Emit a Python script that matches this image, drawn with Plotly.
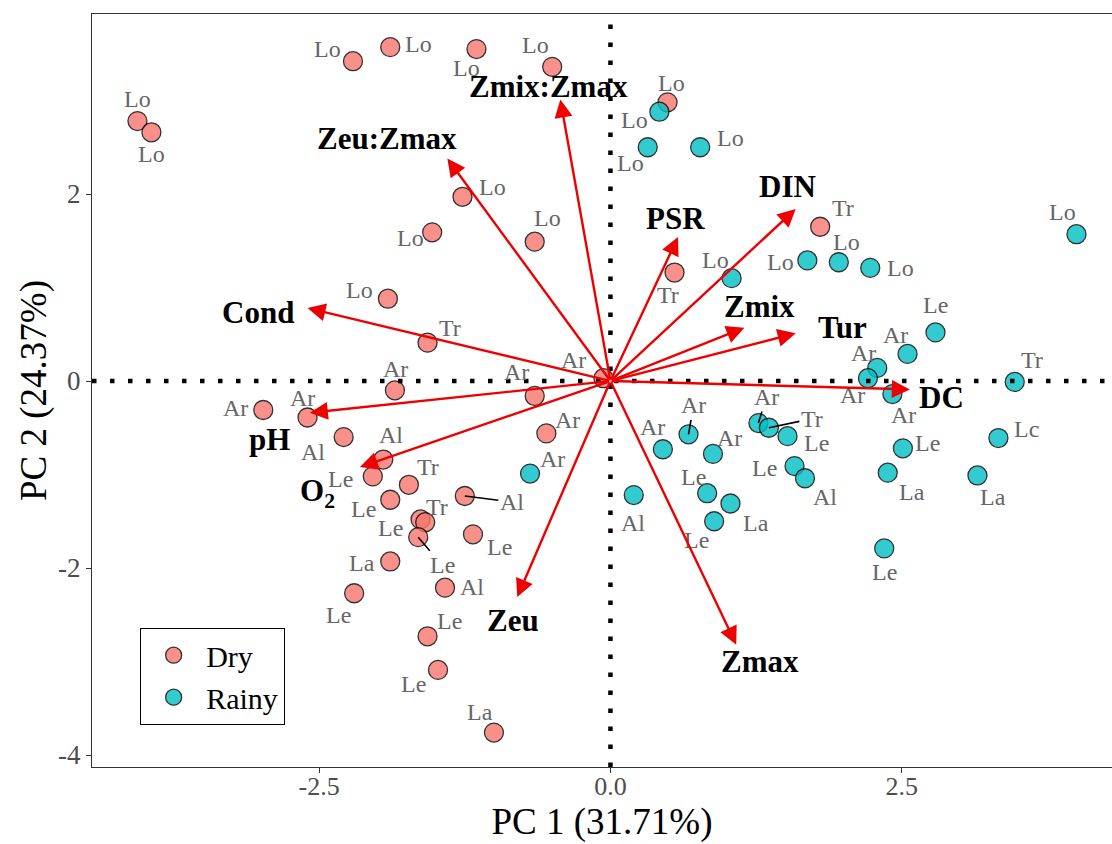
import plotly.graph_objects as go

# ---------------- data ----------------
dry_x = [-4.06, -3.94, -2.21, -1.89, -1.15, -0.50, 0.49, -1.27, -1.53, -0.65, -1.91, -1.57,
         -1.85, -2.98, -2.60, -2.29, -1.95, -2.04, -1.73, -1.89, -1.63, -1.59, -1.65, -1.89,
         -2.20, -1.42, -1.57, -1.48, -1.00, -1.25, -1.18, -0.65, -0.55, -0.06, 0.55, 1.80]
dry_y = [2.78, 2.66, 3.42, 3.57, 3.55, 3.36, 2.98, 1.97, 1.59, 1.49, 0.88, 0.41,
         -0.10, -0.31, -0.39, -0.60, -0.84, -1.02, -1.11, -1.27, -1.48, -1.51, -1.67, -1.93,
         -2.27, -2.21, -2.73, -3.09, -3.76, -1.23, -1.64, -0.16, -0.56, 0.03, 1.16, 1.65]
dry_lab = ["Lo", "Lo", "Lo", "Lo", "Lo", "Lo", "Lo", "Lo", "Lo", "Lo", "Lo", "Tr",
           "Ar", "Ar", "Ar", "Al", "Al", "Le", "Tr", "Le", "Tr", "Le", "Le", "La",
           "Le", "Al", "Le", "Le", "La", "Al", "Le", "Ar", "Ar", "Ar", "Tr", "Tr"]

rainy_x = [0.42, 0.32, 0.77, 1.04, 1.69, 1.96, 2.23, 4.00, 2.79, 2.55, 2.29, 2.21,
           2.42, 3.47, 3.33, 2.51, 2.38, 3.15, 2.35, 1.27, 1.36, 1.52, 1.58, 1.67,
           0.67, 0.45, 0.88, 0.83, 1.03, 0.89, 0.20, -0.69]
rainy_y = [2.88, 2.50, 2.50, 1.10, 1.29, 1.27, 1.21, 1.57, 0.52, 0.29, 0.14, 0.03,
           -0.14, -0.01, -0.61, -0.72, -0.98, -1.01, -1.79, -0.45, -0.50, -0.59, -0.91, -1.04,
           -0.57, -0.73, -0.78, -1.20, -1.31, -1.50, -1.22, -0.99]
rainy_lab = ["Lo", "Lo", "Lo", "Lo", "Lo", "Lo", "Lo", "Lo", "Le", "Ar", "Ar", "Ar",
             "Ar", "Tr", "Lc", "Le", "La", "La", "Le", "Ar", "Tr", "Le", "Le", "Al",
             "Ar", "Ar", "Ar", "Le", "La", "Le", "Al", "Ar"]

load_names = ["Zmix:Zmax", "Zeu:Zmax", "Cond", "pH", "O<sub>2</sub>", "Zeu", "Zmax",
              "DC", "Tur", "Zmix", "DIN", "PSR"]
load_x = [-0.43, -1.40, -2.60, -2.58, -2.15, -0.80, 1.08, 2.57, 1.59, 1.15, 1.59, 0.58]
load_y = [3.01, 2.38, 0.78, -0.34, -0.92, -2.31, -2.82, -0.09, 0.51, 0.57, 1.84, 1.54]

# ---------------- label placement (pixel offsets, layout only) ----------------
dry_off = [(0, -22), (0, 22), (-25, -12), (28, -3), (-10, 19), (-17, -22), (4, -19), (30, -10),
           (-22, 6), (13, -24), (-28, -9), (22, -15), (1, -21), (-28, -2), (-5, -19), (-31, 15),
           (8, -25), (-32, 3), (19, -18), (-27, 9), (16, -12), (-35, 6), (24, 28), (-28, 2),
           (-16, 22), (27, -1), (22, -15), (-25, 14), (-14, -21), (47, 6), (27, 13), (-18, -24),
           (21, -13), (-30, -18), (-7, 22), (23, -19)]
dry_leader = [22, 29]
rainy_off = [(-25, 8), (-17, 16), (30, -9), (-16, -18), (-27, 2), (8, -20), (30, 0), (-14, -22),
             (0, -27), (-12, -19), (-14, -15), (-15, 17), (11, 21), (17, -22), (28, -9), (25, -5),
             (24, 19), (16, 22), (0, 24), (8, -26), (43, -9), (29, 7), (-30, 2), (20, 19),
             (5, -29), (-10, -22), (17, -16), (-14, -16), (26, 19), (-18, 19), (-1, 28), (22, -15)]
rainy_leader = [19, 20, 24]
load_off = [(-12, -13), (-60, -20), (-50, 4), (-40, 27), (-42, 26), (-4, 23), (24, 17),
            (32, 8), (47, -6), (15, -21), (-8, -22), (-3, -19)]

SERIF = "Liberation Serif"
XR = [-4.45, 4.305]
YR = [-4.128, 3.925]

fig = go.Figure()

fig.add_trace(go.Scatter(x=dry_x, y=dry_y, mode="markers", name="Dry",
                         marker=dict(size=19, color="#F8766D", opacity=0.8,
                                     line=dict(color="black", width=1.3))))
fig.add_trace(go.Scatter(x=rainy_x, y=rainy_y, mode="markers", name="Rainy",
                         marker=dict(size=19, color="#00BFC4", opacity=0.8,
                                     line=dict(color="black", width=1.3))))

# dotted reference lines
fig.add_shape(type="line", x0=XR[0], x1=XR[1], y0=0, y1=0, layer="above",
              line=dict(color="black", width=4.5, dash="4.5px,13.5px"))
fig.add_shape(type="line", x0=0, x1=0, y0=YR[0], y1=YR[1], layer="above",
              line=dict(color="black", width=4.5, dash="4.5px,13.5px"))

ann = []
def add_labels(xs, ys, labs, offs, leaders):
    for i, (x, y, t) in enumerate(zip(xs, ys, labs)):
        dx, dy = offs[i]
        if i in leaders:
            ann.append(dict(x=x, y=y, text=t, showarrow=True, ax=dx, ay=dy,
                            arrowhead=0, arrowwidth=1.6, arrowcolor="black", standoff=0,
                            font=dict(family=SERIF, size=24, color="#666666")))
        else:
            ann.append(dict(x=x, y=y, text=t, showarrow=False, xshift=dx, yshift=-dy,
                            font=dict(family=SERIF, size=24, color="#666666")))

add_labels(dry_x, dry_y, dry_lab, dry_off, dry_leader)
add_labels(rainy_x, rainy_y, rainy_lab, rainy_off, rainy_leader)

for n, x, y, (dx, dy) in zip(load_names, load_x, load_y, load_off):
    ann.append(dict(x=x, y=y, ax=0, ay=0, axref="x", ayref="y", text="",
                    showarrow=True, arrowhead=2, arrowsize=1.5, arrowwidth=2.4,
                    arrowcolor="#EE0000", standoff=0))
    ann.append(dict(x=x, y=y, text="<b>" + n + "</b>", showarrow=False,
                    xshift=dx, yshift=-dy,
                    font=dict(family=SERIF, size=31, color="black")))

fig.update_layout(
    width=1112, height=844,
    margin=dict(l=92, r=0, t=14, b=77),
    plot_bgcolor="white", paper_bgcolor="white",
    annotations=ann,
    showlegend=True,
    legend=dict(x=0.047, y=0.1846, xanchor="left", yanchor="top",
                bordercolor="black", borderwidth=1.2, bgcolor="white",
                font=dict(family=SERIF, size=30, color="black"),
                itemwidth=55, tracegroupgap=0),
)
fig.update_xaxes(range=XR, showgrid=False, zeroline=False, showline=True, mirror=True,
                 linecolor="#333333", linewidth=1.2, ticks="outside", ticklen=5,
                 tickcolor="#333333", tickvals=[-2.5, 0, 2.5], ticktext=["-2.5", "0.0", "2.5"],
                 tickfont=dict(family=SERIF, size=26, color="#4D4D4D"),
                 ticklabelstandoff=-9,
                 title=dict(text="PC 1 (31.71%)", font=dict(family=SERIF, size=37, color="black"),
                            standoff=2))
fig.update_yaxes(range=YR, showgrid=False, zeroline=False, showline=True, mirror=True,
                 linecolor="#333333", linewidth=1.2, ticks="outside", ticklen=5,
                 tickcolor="#333333", tickvals=[-4, -2, 0, 2], ticktext=["-4", "-2", "0", "2"],
                 tickfont=dict(family=SERIF, size=27, color="#4D4D4D"),
                 title=dict(text="PC 2 (24.37%)", font=dict(family=SERIF, size=37, color="black"),
                            standoff=0))

fig.write_html("out.html")
